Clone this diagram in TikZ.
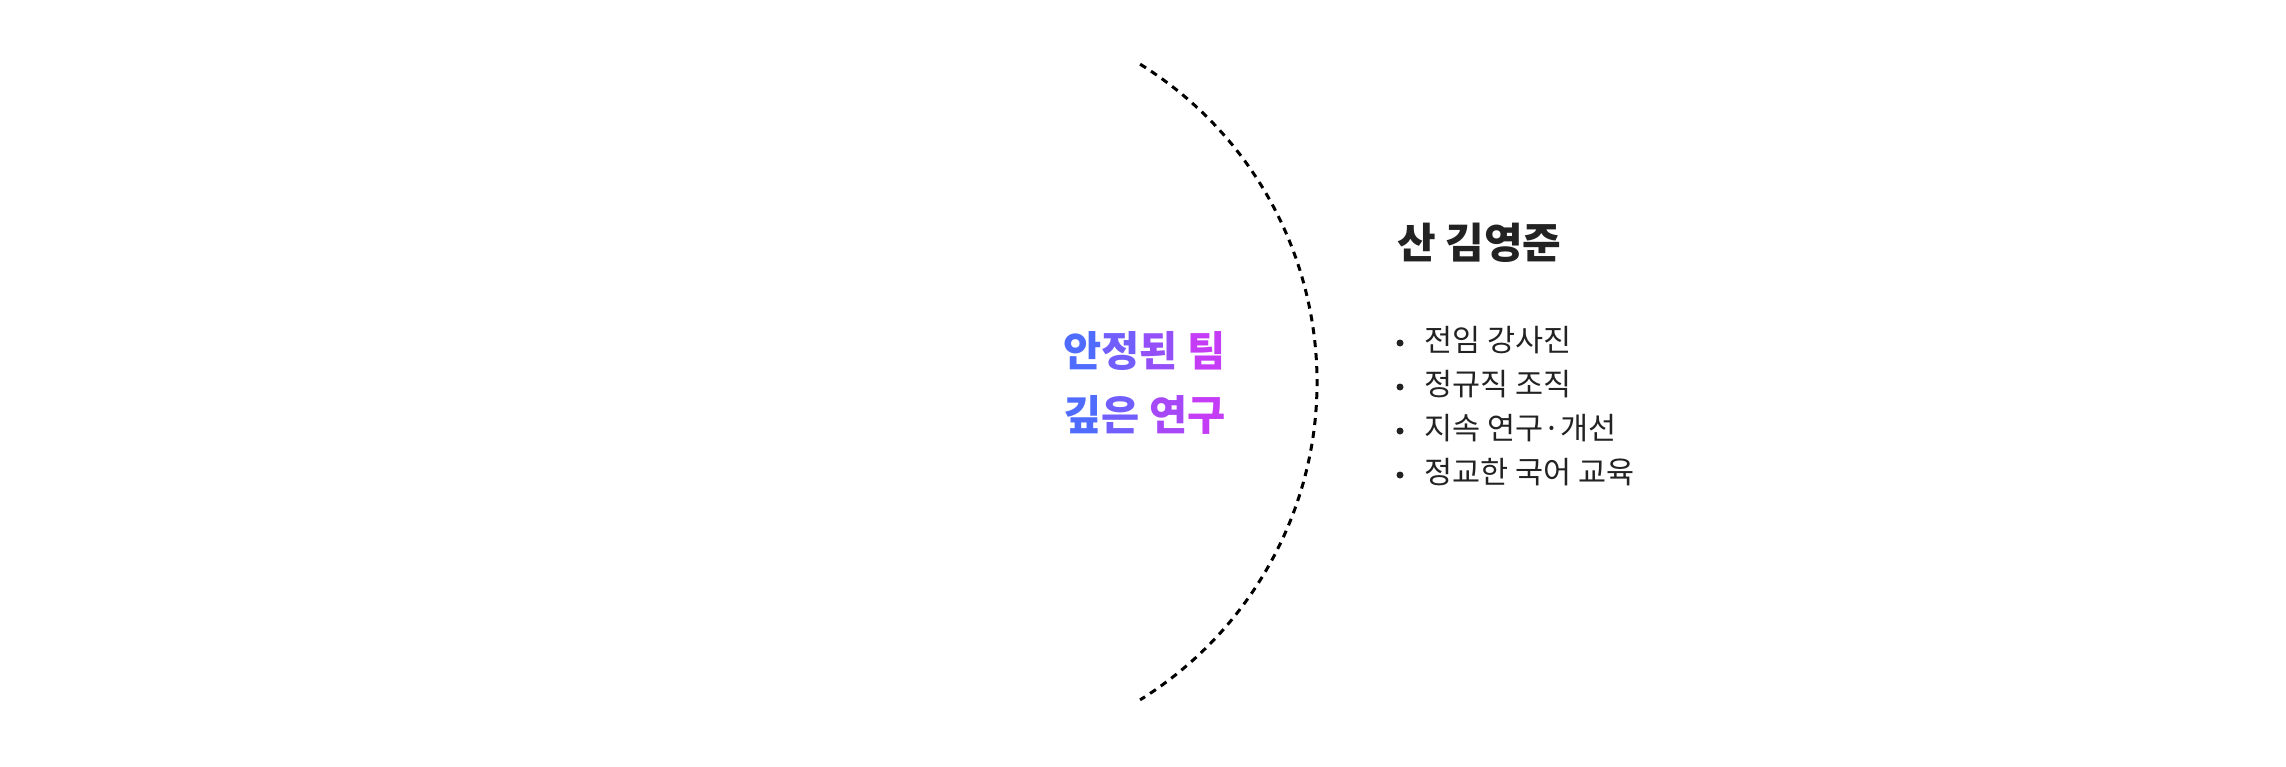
\documentclass[tikz,border=0pt]{standalone}
\usepackage{fontspec}
\setmainfont{Noto Sans CJK KR}
\definecolor{gA}{HTML}{4F6CFF}
\definecolor{gB}{HTML}{C43CF5}
\definecolor{ink}{HTML}{222222}
\newcommand{\gc}[2]{{\color{gB!#1!gA}#2}}
\begin{document}
\begin{tikzpicture}[x=1pt,y=-1pt,
  grad/.style={font=\fontsize{41.5}{44}\selectfont\bfseries, anchor=west, inner sep=0},
  item/.style={font=\fontsize{30.5}{33}\selectfont, text=ink, anchor=west, inner sep=0},
  dot/.style={circle, fill=ink, inner sep=0, minimum size=7pt}]
\useasboundingbox (0,0) rectangle (2286,766);
\coordinate (c) at (943,382);
\draw[line width=3pt, dash pattern=on 7pt off 6pt] ([shift={(-58.2:374)}]c) arc[start angle=-58.2, end angle=58.2, radius=374];
\node[grad] (l1) at (1063,351) {\gc{0}{안}\gc{30}{정}\gc{60}{된} \gc{100}{팀}};
\node[grad] (l2) at (1063,415) {\gc{0}{깊}\gc{30}{은} \gc{75}{연}\gc{100}{구}};
\node[font=\fontsize{42}{44}\selectfont\bfseries, text=ink, anchor=west, inner sep=0] (t) at (1397,243) {산 김영준};
\foreach \i/\s in {0/전임 강사진,1/정규직 조직,2/지속 연구·개선,3/정교한 국어 교육}{
  \node[dot] (d\i) at (1400,343+44*\i) {};
  \node[item] (b\i) at (1424,340+44*\i) {\s};
}
\end{tikzpicture}
\end{document}
